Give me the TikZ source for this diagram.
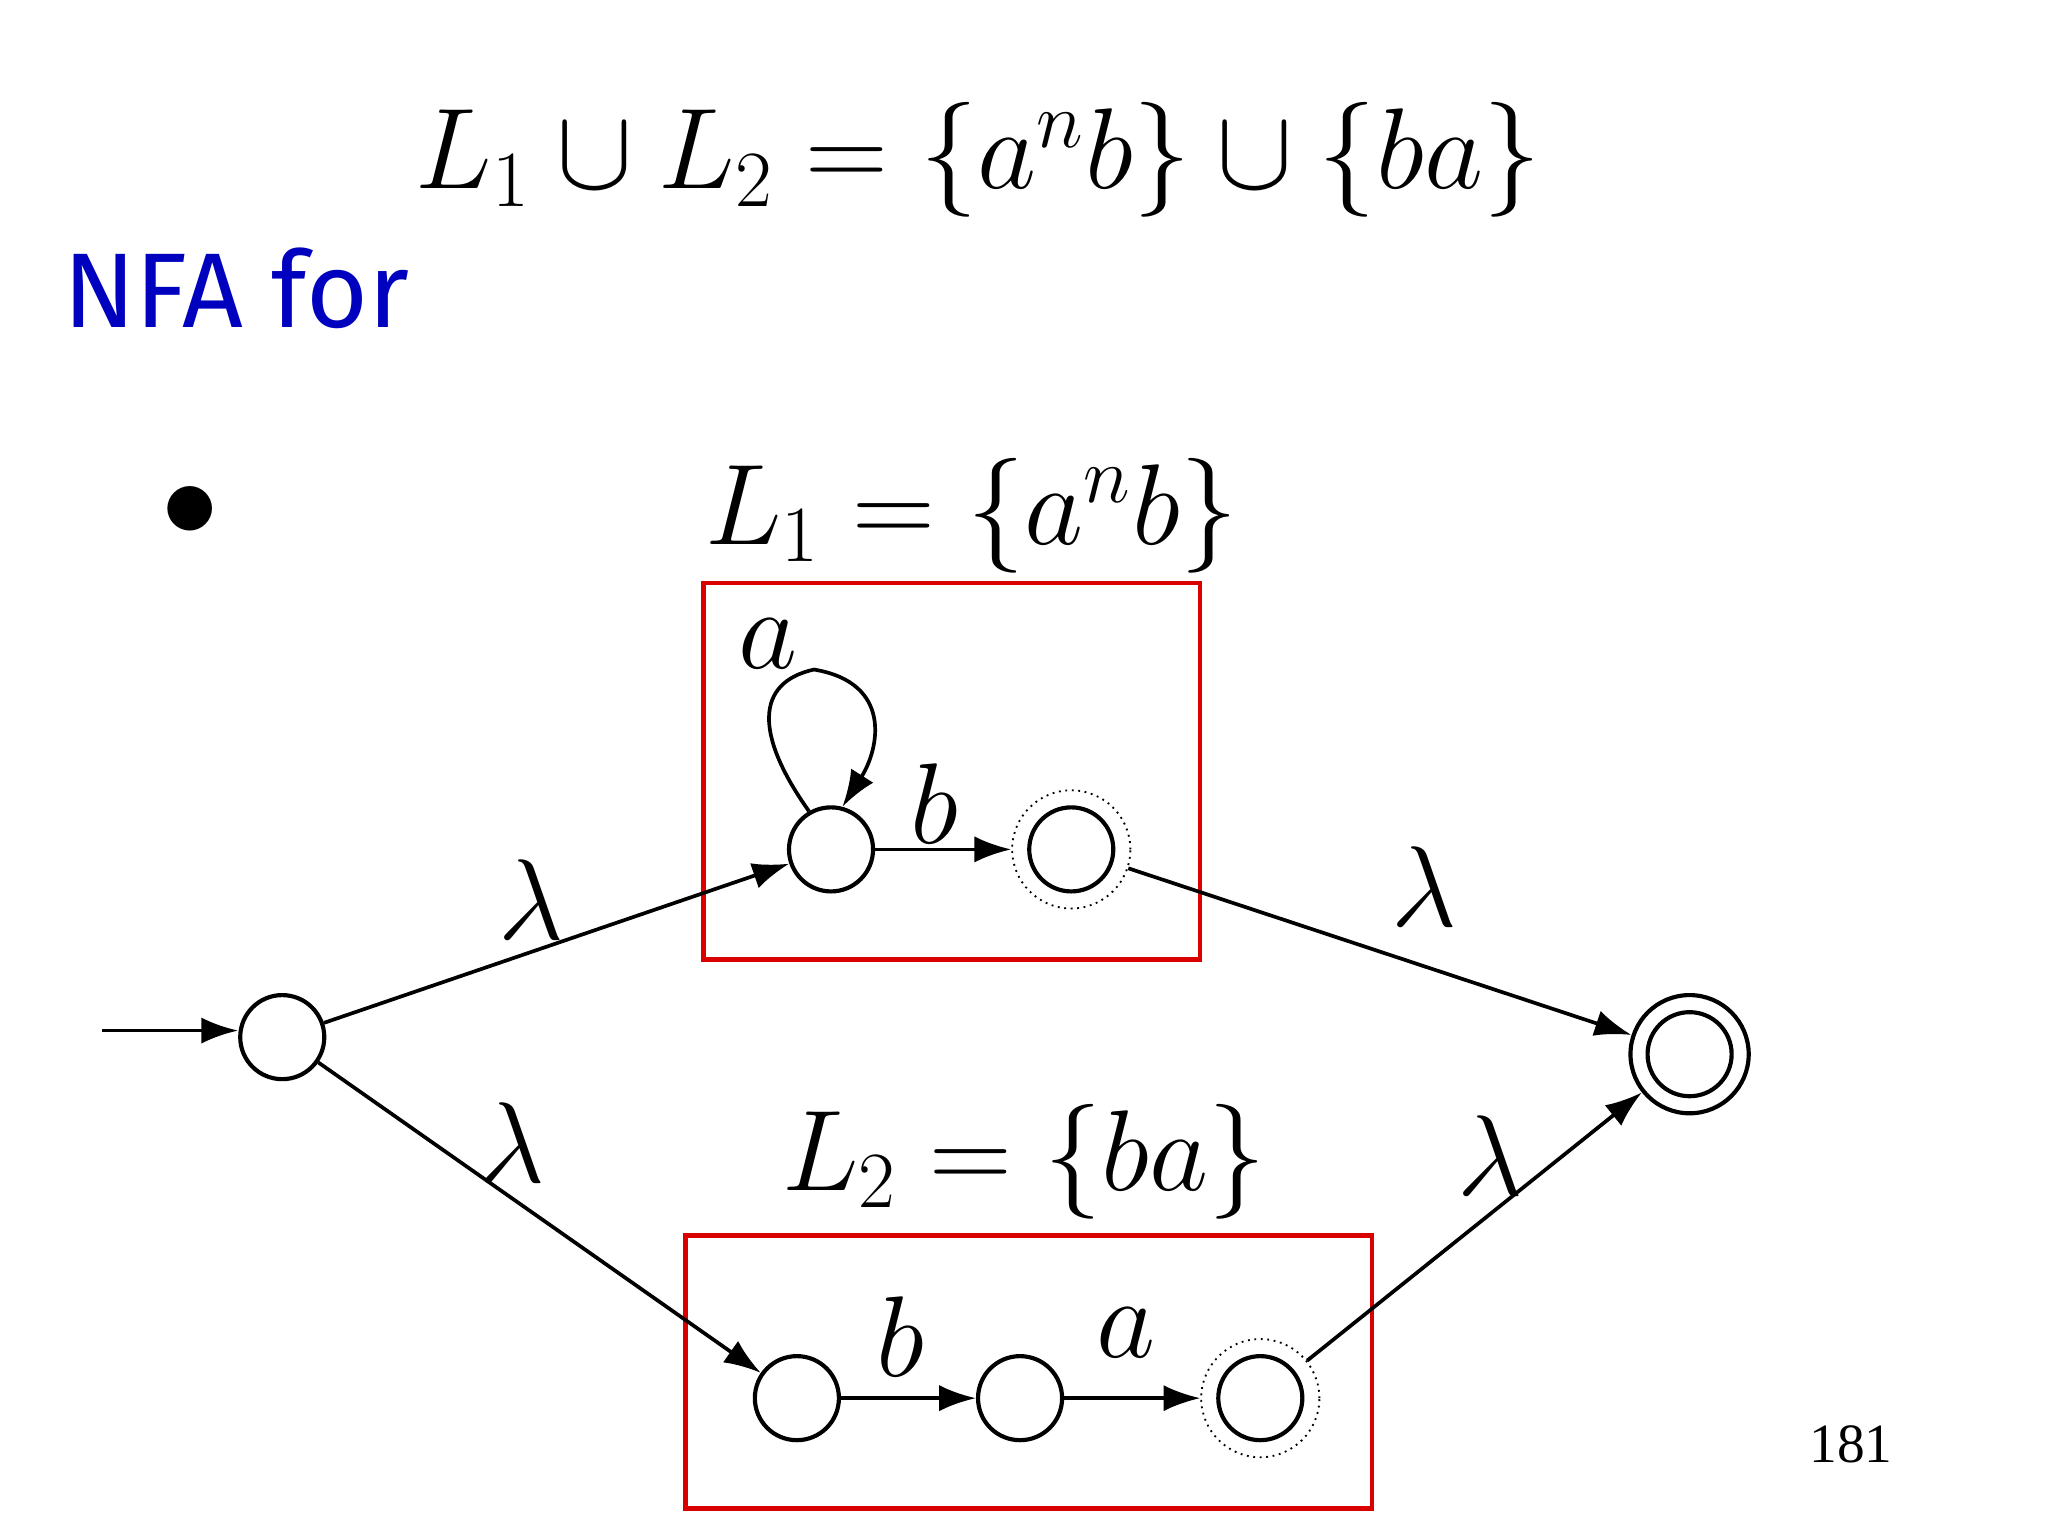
\documentclass[tikz,border=0pt]{standalone}
\usepackage{fontspec}
\newfontfamily\nfafont{Fira Sans}
\newfontfamily\numfont{Liberation Serif}
\usetikzlibrary{arrows.meta}
\begin{document}
\begin{tikzpicture}[x=0.01cm,y=-0.01cm,
  st/.style={circle,draw,line width=0.9pt,minimum size=0.64cm,inner sep=0pt},
  tr/.style={line width=0.8pt,-{Latex[length=0.28cm,width=0.2cm]}},
  lab/.style={font=\fontsize{27}{32}\selectfont},
  box/.style={draw=red!85!black,line width=1pt}]
\useasboundingbox (0,0) rectangle (1560,1170);
\node[lab] (title) at (745,122) {$L_1\cup L_2=\{a^nb\}\cup\{ba\}$};
\node[font=\nfafont\fontsize{23}{28}\selectfont,text=blue!75!black] (nfa) at (180,220) {NFA for};
\node[font=\fontsize{24}{30}\selectfont] (bul) at (145,390) {$\bullet$};
\node[lab] (l1) at (740,393) {$L_1=\{a^nb\}$};
\node[lab] (l2) at (780,885) {$L_2=\{ba\}$};
\node[font=\numfont\fontsize{12}{14}\selectfont] (pg) at (1410,1100) {181};
\draw[box] (536,444) rectangle (914,731);
\draw[box] (522,941) rectangle (1045,1149);
\node[st] (q0) at (215,790) {};
\node[st] (s1) at (633,647) {};
\node[st] (s2) at (816,647) {};
\node[circle,draw,densely dotted,minimum size=0.9cm,inner sep=0pt] (s2o) at (816,647) {};
\node[st] (f) at (1287,803) {};
\node[circle,draw,line width=0.9pt,minimum size=0.9cm,inner sep=0pt] (fo) at (1287,803) {};
\node[st] (t1) at (607,1065) {};
\node[st] (t2) at (777,1065) {};
\node[st] (t3) at (960,1065) {};
\node[circle,draw,densely dotted,minimum size=0.9cm,inner sep=0pt] (t3o) at (960,1065) {};
\coordinate (in) at (78,785);
\draw[tr] (in) -- (q0.west|-in);
\draw[tr] (q0) -- (s1);
\draw[tr] (q0) -- (t1);
\draw[tr] (s1) -- (s2o);
\draw[tr] (s2o) -- (fo);
\draw[tr] (t1) -- (t2);
\draw[tr] (t2) -- (t3o);
\draw[tr] (t3o) -- (fo);
\draw[tr] (s1.120) .. controls (575,560) and (575,520) .. (620,510) .. controls (680,520) and (670,570) .. (s1.75);
\node[lab] (la) at (585,490) {$a$};
\node[lab] (lb1) at (712,612) {$b$};
\node[lab] (lb2) at (686,1018) {$b$};
\node[lab] (la2) at (858,1015) {$a$};
\node[lab] (lam1) at (405,685) {$\lambda$};
\node[lab] (lam2) at (390,870) {$\lambda$};
\node[lab] (lam3) at (1085,675) {$\lambda$};
\node[lab] (lam4) at (1135,880) {$\lambda$};
\end{tikzpicture}
\end{document}
